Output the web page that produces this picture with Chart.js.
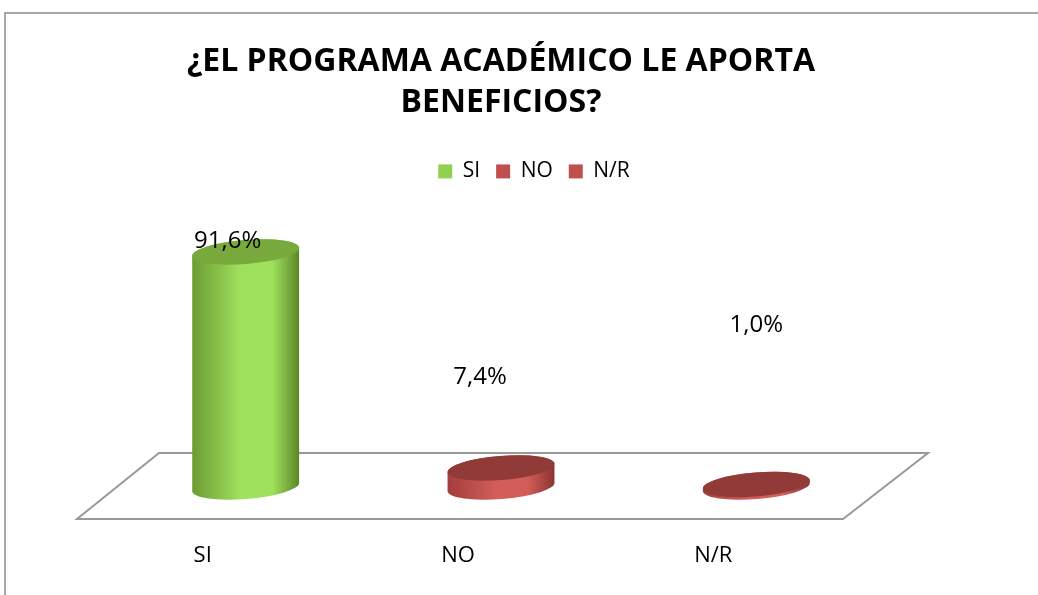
<!DOCTYPE html>
<html>
<head>
<meta charset="utf-8">
<script src="https://cdn.jsdelivr.net/npm/chart.js@4/dist/chart.umd.min.js"></script>
<style>
  html, body { margin: 0; padding: 0; background: #fff; }
  #wrap { width: 1038px; height: 595px; }
</style>
</head>
<body>
<div id="wrap"><canvas id="myChart"></canvas></div>
<script>
const categories = ['SI', 'NO', 'N/R'];
const values = [91.6, 7.4, 1.0];
const valueLabels = ['91,6%', '7,4%', '1,0%'];
const legendColors = ['#92D050', '#C0504D', '#C0504D'];

// where each value label sits, relative to the top of its cylinder
const labelOffsets = [[-18, -11], [-21, -91], [0, -159]];

const palettes = [
    { edgeL: '#6c9b33', light: '#9fe05c', edgeR: '#5a8628', top: '#78a93c' },
    { edgeL: '#a33e3c', light: '#d25d59', edgeR: '#8a3432', top: '#913b39' },
    { edgeL: '#a33e3c', light: '#d25d59', edgeR: '#8a3432', top: '#913b39' }
];

function drawCylinder(ctx, cx, top, base, rx, ry, rot, pal) {
    const g = ctx.createLinearGradient(cx - rx, 0, cx + rx, 0);
    g.addColorStop(0, pal.edgeL);
    g.addColorStop(0.45, pal.light);
    g.addColorStop(0.75, pal.light);
    g.addColorStop(1, pal.edgeR);
    ctx.beginPath();
    ctx.ellipse(cx, base, rx, ry, rot, Math.PI, 0, true);
    ctx.ellipse(cx, top, rx, ry, rot, 0, Math.PI, true);
    ctx.closePath();
    ctx.fillStyle = g;
    ctx.fill();
    ctx.beginPath();
    ctx.ellipse(cx, top, rx, ry, rot, 0, Math.PI * 2);
    ctx.fillStyle = pal.top;
    ctx.fill();
}

const frame = {
    id: 'frame',
    afterLayout(chart) {
        // legend sits a bit right of the plot centre
        chart.legend.left += 33;
        chart.legend.right += 33;
    },
    beforeDraw(chart) {
        const ctx = chart.ctx;
        ctx.save();
        ctx.strokeStyle = '#8c8c8c';
        ctx.lineWidth = 1.5;
        ctx.beginPath();
        ctx.moveTo(5, chart.height);
        ctx.lineTo(5, 13);
        ctx.lineTo(chart.width, 13);
        ctx.stroke();
        ctx.restore();
    }
};

const cylinders = {
    id: 'cylinders',
    beforeDatasetsDraw(chart) {
        const ctx = chart.ctx;
        const a = chart.chartArea;
        const base = chart.scales.y.getPixelForValue(0);
        ctx.save();
        ctx.strokeStyle = '#999';
        ctx.lineWidth = 2;
        ctx.beginPath();
        ctx.moveTo(a.left + 41, base - 34);
        ctx.lineTo(a.right + 44, base - 34);
        ctx.lineTo(a.right - 41, base + 32);
        ctx.lineTo(a.left - 41, base + 32);
        ctx.closePath();
        ctx.stroke();
        ctx.restore();
    },
    afterDatasetsDraw(chart) {
        const ctx = chart.ctx;
        const meta = chart.getDatasetMeta(0);
        ctx.save();
        meta.data.forEach((bar, i) => {
            const p = bar.getProps(['x', 'y', 'base', 'width'], true);
            drawCylinder(ctx, p.x, p.y, p.base, p.width / 2, 12, -0.08, palettes[i]);
        });
        ctx.fillStyle = '#000';
        ctx.font = '24px "Open Sans"';
        ctx.textAlign = 'center';
        ctx.textBaseline = 'middle';
        meta.data.forEach((bar, i) => {
            ctx.fillText(valueLabels[i], bar.x + labelOffsets[i][0], bar.y + labelOffsets[i][1]);
        });
        ctx.restore();
    }
};

const data = {
    labels: categories,
    datasets: [{
        data: values,
        backgroundColor: 'rgba(0,0,0,0)',
        borderWidth: 0,
        barPercentage: 1,
        categoryPercentage: 0.42
    }]
};

const config = {
    type: 'bar',
    data: data,
    options: {
        responsive: true,
        maintainAspectRatio: false,
        animation: false,
        layout: {
            padding: { top: 14, left: 118, right: 154, bottom: 0 }
        },
        plugins: {
            title: {
                display: true,
                text: ['¿EL PROGRAMA ACADÉMICO LE APORTA', 'BENEFICIOS?'],
                color: '#000',
                font: { family: 'Open Sans', size: 32, weight: 'bold', lineHeight: 1.28 },
                padding: { top: 27, bottom: 22 }
            },
            legend: {
                display: true,
                labels: {
                    color: '#000',
                    font: { family: 'Open Sans', size: 21 },
                    boxWidth: 14,
                    boxHeight: 14,
                    padding: 16,
                    generateLabels: () => categories.map((c, i) => ({
                        text: c,
                        fillStyle: legendColors[i],
                        strokeStyle: legendColors[i],
                        lineWidth: 0,
                        index: i
                    }))
                }
            },
            tooltip: { enabled: false }
        },
        scales: {
            x: {
                grid: { display: false },
                border: { display: false },
                ticks: {
                    color: '#000',
                    font: { family: 'Open Sans', size: 22 },
                    labelOffset: -43,
                    padding: 48
                },
                afterFit: (scale) => { scale.height = 108; }
            },
            y: {
                display: false,
                min: 0,
                max: 115
            }
        }
    },
    plugins: [frame, cylinders]
};

const ctx = document.getElementById('myChart');
new Chart(ctx, config);
</script>
</body>
</html>
